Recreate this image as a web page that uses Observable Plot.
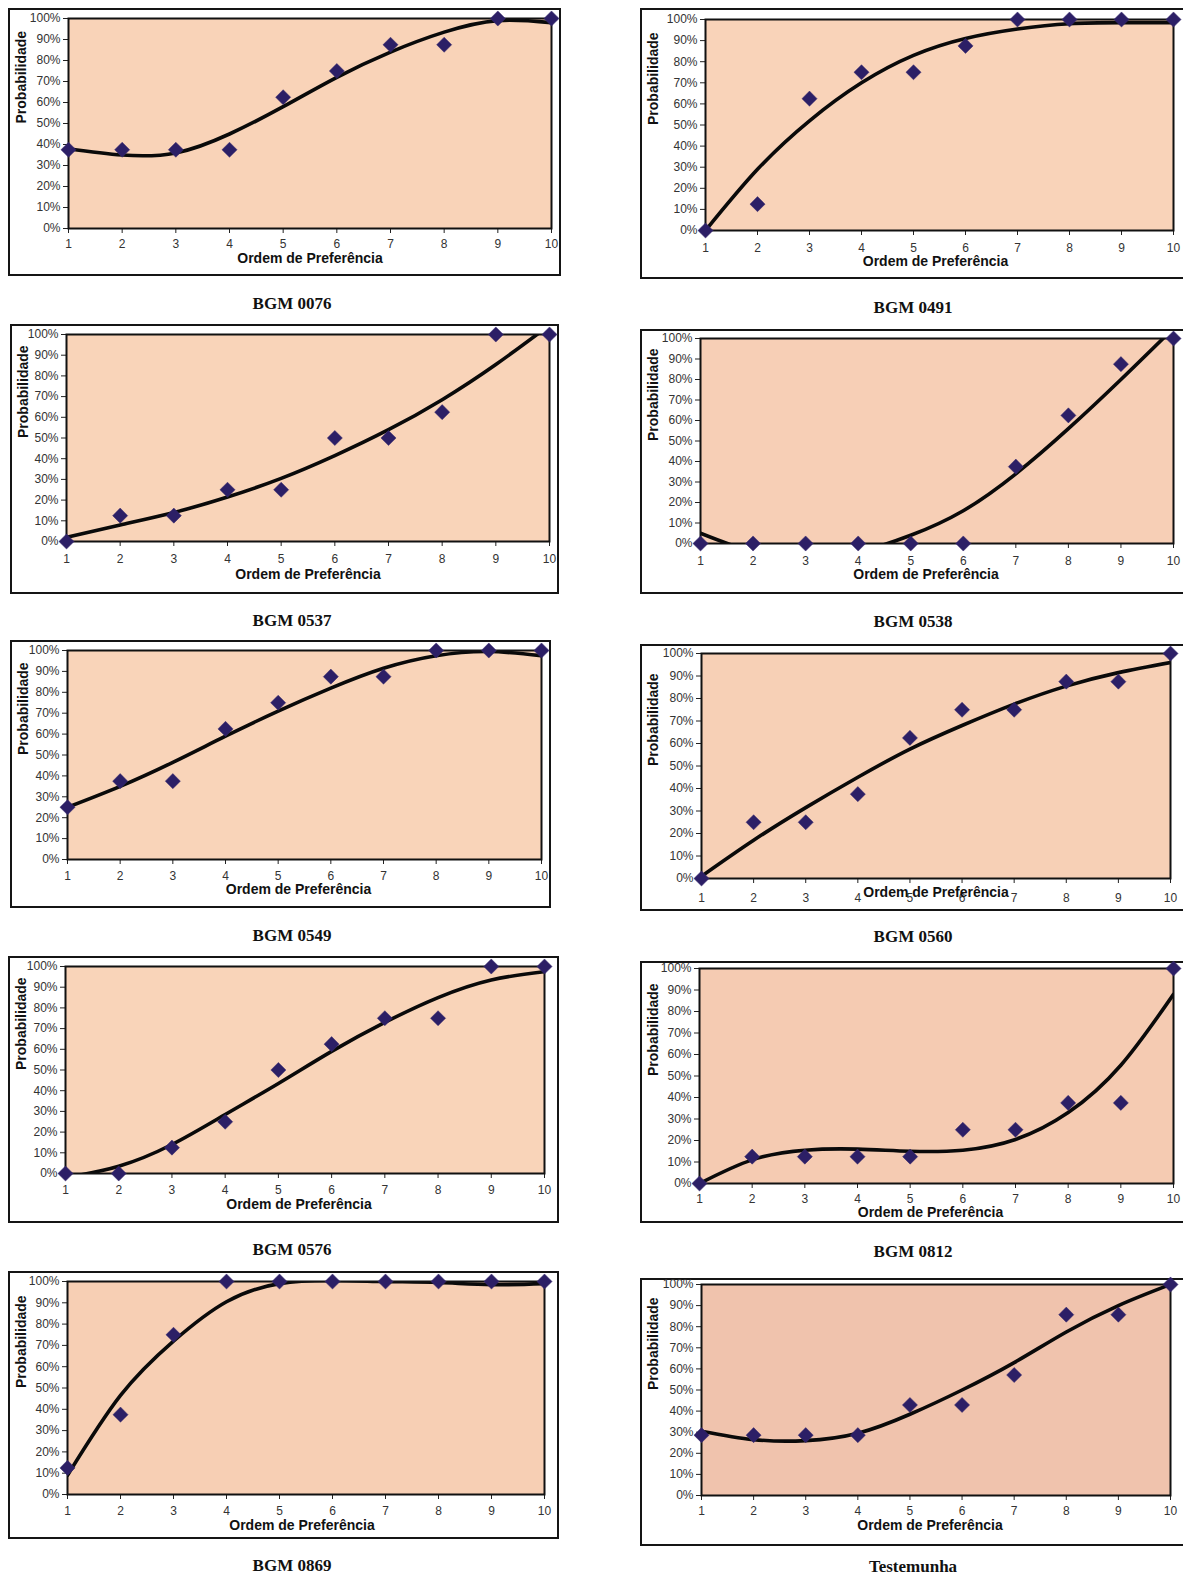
<!DOCTYPE html>
<html>
<head>
<meta charset="utf-8">
<script src="https://cdn.jsdelivr.net/npm/d3@7"></script>
<script src="https://cdn.jsdelivr.net/npm/@observablehq/plot@0.6"></script>
<style>
  html, body { margin: 0; padding: 0; background: #fff; }
  #page { position: relative; width: 1183px; height: 1577px; overflow: hidden; background: #fff; }
  .box { position: absolute; border: 2px solid #151515; background: #fff; box-sizing: border-box; }
  .box svg { display: block; }
  .cap { position: absolute; transform: translate(-50%, -50%); font-family: "Liberation Serif", "Times New Roman", serif; font-weight: bold; font-size: 17px; color: #111; white-space: nowrap; }
</style>
</head>
<body>
<div id="page"></div>
<script>
// ---- data ----
const ordem = [1, 2, 3, 4, 5, 6, 7, 8, 9, 10];
const yTicks = [0, 10, 20, 30, 40, 50, 60, 70, 80, 90, 100];
const xTitle = "Ordem de Preferência";
const yTitle = "Probabilidade";
const titles = ["BGM 0076", "BGM 0491", "BGM 0537", "BGM 0538", "BGM 0549", "BGM 0560", "BGM 0576", "BGM 0812", "BGM 0869", "Testemunha"];

const bgm0076 = [37.5, 37.5, 37.5, 37.5, 62.5, 75, 87.5, 87.5, 100, 100];
const bgm0076Trend = [38, 35, 36, 45, 58, 72, 84, 93.5, 99, 98];
const bgm0491 = [0, 12.5, 62.5, 75, 75, 87.5, 100, 100, 100, 100];
const bgm0491Trend = [0, 29, 52, 70, 83, 91, 95.5, 98, 98.5, 98.5];
const bgm0537 = [0, 12.5, 12.5, 25, 25, 50, 50, 62.5, 100, 100];
const bgm0537Trend = [2, 8, 14, 21.5, 30.5, 41.5, 54, 68.5, 85.5, 104.5];
const bgm0538 = [0, 0, 0, 0, 0, 0, 37.5, 62.5, 87.5, 100];
const bgm0538Trend = [5, -4, -7, -4, 4, 16, 34, 56, 80, 105];
const bgm0549 = [25, 37.5, 37.5, 62.5, 75, 87.5, 87.5, 100, 100, 100];
const bgm0549Trend = [25, 35, 46.5, 59, 71, 82, 91.5, 97.5, 99.5, 97.5];
const bgm0560 = [0, 25, 25, 37.5, 62.5, 75, 75, 87.5, 87.5, 100];
const bgm0560Trend = [1, 17, 31.5, 45, 57.5, 68, 77.5, 85.5, 91.5, 96];
const bgm0576 = [0, 0, 12.5, 25, 50, 62.5, 75, 75, 100, 100];
const bgm0576Trend = [-2, 3.5, 14, 28.5, 43.5, 59, 73, 85, 93.5, 97.5];
const bgm0812 = [0, 12.5, 12.5, 12.5, 12.5, 25, 25, 37.5, 37.5, 100];
const bgm0812Trend = [0, 11, 15.5, 16, 15, 15.5, 20.5, 33, 55, 88];
const bgm0869 = [12.5, 37.5, 75, 100, 100, 100, 100, 100, 100, 100];
const bgm0869Trend = [9, 46.5, 72, 90.5, 99, 100.5, 100, 99.5, 98.5, 99];
const testemunha = [28.6, 28.6, 28.6, 28.6, 42.9, 42.9, 57.1, 85.7, 85.7, 100];
const testemunhaTrend = [30.5, 26.5, 26, 29.5, 38.5, 50, 63, 77.5, 90, 100];

const seriesPoints = [bgm0076, bgm0491, bgm0537, bgm0538, bgm0549, bgm0560, bgm0576, bgm0812, bgm0869, testemunha];
const seriesTrend = [bgm0076Trend, bgm0491Trend, bgm0537Trend, bgm0538Trend, bgm0549Trend, bgm0560Trend, bgm0576Trend, bgm0812Trend, bgm0869Trend, testemunhaTrend];

// ---- layout (box-relative pixel geometry) ----
const layout = [
  {left: 8,   top: 8,    w: 553, h: 268, mL: 60, plotW: 483, mT: 10, plotH: 210, capX: 292, capY: 304, tickPad: 6,  titleDy: 34, titleDx: 0,   bg: "#f9d3b8"},
  {left: 640, top: 8,    w: 560, h: 271, mL: 65, plotW: 468, mT: 11, plotH: 211, capX: 913, capY: 308, tickPad: 8,  titleDy: 35, titleDx: -4,  bg: "#f9d3b9"},
  {left: 10,  top: 324,  w: 549, h: 270, mL: 56, plotW: 483, mT: 10, plotH: 207, capX: 292, capY: 621, tickPad: 8,  titleDy: 37, titleDx: 0,   bg: "#f9d4b9"},
  {left: 640, top: 329,  w: 560, h: 265, mL: 60, plotW: 473, mT: 9,  plotH: 205, capX: 913, capY: 622, tickPad: 8,  titleDy: 35, titleDx: -11, bg: "#f7cfb6"},
  {left: 10,  top: 640,  w: 541, h: 268, mL: 57, plotW: 474, mT: 10, plotH: 209, capX: 292, capY: 936, tickPad: 7,  titleDy: 34, titleDx: -6,  bg: "#f9d4b9"},
  {left: 640, top: 644,  w: 560, h: 267, mL: 61, plotW: 469, mT: 9,  plotH: 225, capX: 913, capY: 937, tickPad: 10, titleDy: 18, titleDx: 0,   bg: "#f7d0b6"},
  {left: 8,   top: 956,  w: 551, h: 267, mL: 57, plotW: 479, mT: 10, plotH: 207, capX: 292, capY: 1250, tickPad: 7, titleDy: 35, titleDx: -6,  bg: "#f9d4b9"},
  {left: 640, top: 961,  w: 560, h: 262, mL: 59, plotW: 474, mT: 7,  plotH: 215, capX: 913, capY: 1252, tickPad: 6, titleDy: 33, titleDx: -6,  bg: "#f5cbb2"},
  {left: 8,   top: 1271, w: 551, h: 268, mL: 59, plotW: 477, mT: 10, plotH: 213, capX: 292, capY: 1566, tickPad: 7, titleDy: 35, titleDx: -4,  bg: "#f7cfb4"},
  {left: 640, top: 1278, w: 560, h: 268, mL: 61, plotW: 469, mT: 6,  plotH: 211, capX: 913, capY: 1567, tickPad: 6, titleDy: 34, titleDx: -6,  bg: "#f0c3ad"}
];

const page = document.getElementById("page");
const B = 2; // box border

layout.forEach((L, i) => {
  const pts = ordem.map((x, j) => ({x, y: seriesPoints[i][j]}));
  const trend = ordem.map((x, j) => ({x, y: seriesTrend[i][j]}));
  const W = L.w - 2 * B, H = L.h - 2 * B;
  const mL = L.mL - B, mT = L.mT - B;
  const mR = W - mL - L.plotW, mB = H - mT - L.plotH;

  const chart = Plot.plot({
    width: W, height: H,
    marginLeft: mL, marginRight: mR, marginTop: mT, marginBottom: mB,
    x: {domain: [1, 10]},
    y: {domain: [0, 100]},
    style: {fontFamily: "'Liberation Sans', Arial, sans-serif", fontSize: "12px", color: "#333", background: "#fff", overflow: "visible"},
    marks: [
      Plot.frame({fill: L.bg}),
      Plot.axisY({ticks: yTicks, tickFormat: d => d + "%", tickSize: 5, tickPadding: 3, label: null, stroke: "#222"}),
      Plot.axisX({ticks: ordem, tickFormat: d => String(d), tickSize: 5, tickPadding: L.tickPad, label: null, stroke: "#222"}),
      Plot.line(trend, {x: "x", y: "y", curve: "natural", stroke: "#0a0a0a", strokeWidth: 3.6, clip: true}),
      Plot.frame({stroke: "#111", strokeWidth: 2}),
      Plot.dot(pts, {x: "x", y: "y", symbol: "diamond2", r: 6.8, fill: "#2c1f66", stroke: "#3a2d70", strokeWidth: 0.5}),
      Plot.text([xTitle], {frameAnchor: "bottom", dy: L.titleDy, dx: L.titleDx, fontWeight: "bold", fontSize: 14, fill: "#111"}),
      Plot.text([yTitle], {frameAnchor: "left", dx: -(L.mL - 13), rotate: -90, fontWeight: "bold", fontSize: 14, fill: "#111"})
    ]
  });

  const box = document.createElement("div");
  box.className = "box";
  box.style.left = L.left + "px";
  box.style.top = L.top + "px";
  box.style.width = L.w + "px";
  box.style.height = L.h + "px";
  box.appendChild(chart);
  page.appendChild(box);

  const cap = document.createElement("div");
  cap.className = "cap";
  cap.style.left = L.capX + "px";
  cap.style.top = L.capY + "px";
  cap.textContent = titles[i];
  page.appendChild(cap);
});
</script>
</body>
</html>
